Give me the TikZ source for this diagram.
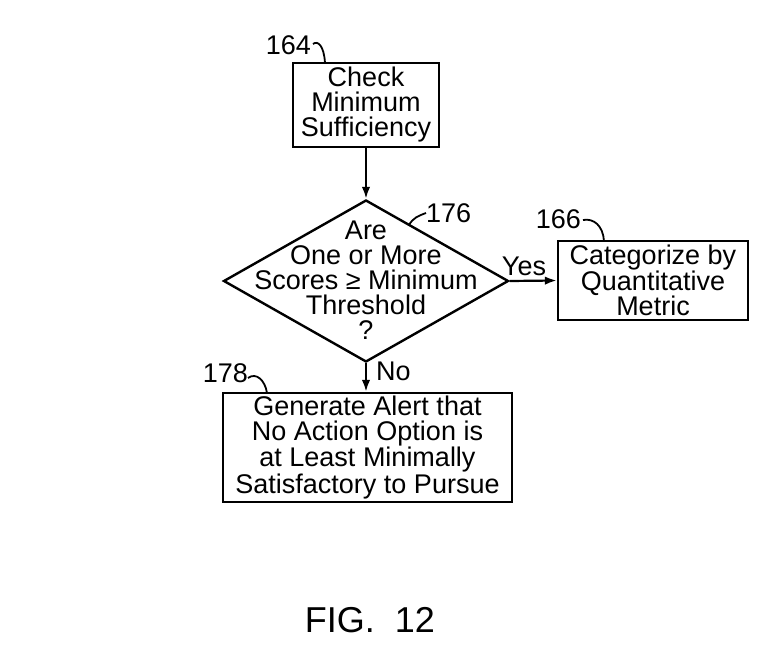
\documentclass[tikz,border=0pt]{standalone}
\usepackage{fontspec}
\setmainfont{Liberation Sans}
\usetikzlibrary{shapes.geometric,arrows.meta}
\begin{document}
\begin{tikzpicture}[x=1pt,y=-1pt,
  every node/.style={font=\fontsize{27}{25}\selectfont},
  box/.style={draw,line width=2.4pt,inner sep=0,align=center},
  txt/.style={align=center,inner sep=0},
  lbl/.style={inner sep=0},
  arr/.style={line width=2.2pt,-{Latex[length=12pt,width=8.5pt]}},
  lead/.style={line width=1.8pt}]
\useasboundingbox (0,0) rectangle (766,660);
% boxes
\node[box,minimum width=146pt,minimum height=84pt] (b164) at (366,105) {Check\\Minimum\\Sufficiency};
\node[diamond,draw,line width=2.4pt,minimum width=285pt,minimum height=162pt,inner sep=0] (d176) at (366,281) {};
\node[txt] (t176) at (366,280) {Are\\One or More\\Scores ≥ Minimum\\Threshold\\?};
\node[box,minimum width=190pt,minimum height=79pt] (b166) at (653,280.5) {Categorize by\\Quantitative\\Metric};
\node[box,minimum width=289pt,minimum height=109pt] (b178) at (367.5,447.5) {Generate Alert that\\No Action Option is\\at Least Minimally\\Satisfactory to Pursue};
% connectors
\draw[arr] (b164.south) -- (d176.north);
\draw[arr] (d176.east) -- (b166.west);
\draw[arr] (d176.south) -- (b178.north -| d176.south);
\node[lbl,anchor=south] (yes) at (524,276) {Yes};
\node[lbl,anchor=west] (no) at (376,371) {No};
% reference labels
\node[lbl,anchor=east] (l164) at (311,45) {164};
\coordinate (c164) at (325,63);
\draw[lead] (l164.east) ++(2,-1) .. controls (318,40) and (324,46) .. (c164);
\node[lbl,anchor=west] (l176) at (426,213) {176};
\coordinate (c176) at (409,225);
\draw[lead] (c176) .. controls (413,218) and (418,216) .. (l176.west);
\node[lbl,anchor=east] (l166) at (581,219) {166};
\coordinate (c166) at (604,241);
\draw[lead] (l166.east) ++(2,1) .. controls (594,218) and (603,226) .. (c166);
\node[lbl,anchor=east] (l178) at (248,373) {178};
\coordinate (c178) at (267,393);
\draw[lead] (l178.east) ++(0,5) .. controls (256,372) and (265,380) .. (c178);
% figure caption
\node[lbl,font=\fontsize{36}{36}\selectfont] (fig) at (370,620) {FIG.\ \ 12};
\end{tikzpicture}
\end{document}
